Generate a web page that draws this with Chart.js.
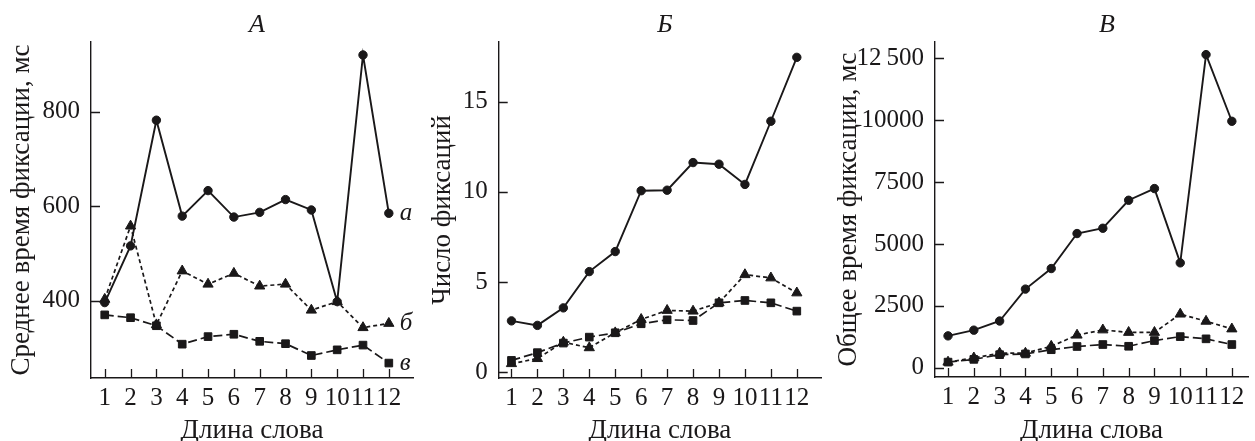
<!DOCTYPE html>
<html><head><meta charset="utf-8">
<script src="https://cdn.jsdelivr.net/npm/chart.js@4.4.0/dist/chart.umd.min.js"></script>
<style>
html,body{margin:0;padding:0;background:#fff;}
#wrap{position:relative;width:1255px;height:441px;overflow:hidden;background:#fff;}
canvas{position:absolute;top:0;}
</style></head><body>
<div id="wrap">
<canvas id="cA" width="420" height="441" style="left:0px"></canvas>
<canvas id="cB" width="408" height="441" style="left:420px"></canvas>
<canvas id="cC" width="427" height="441" style="left:828px"></canvas>
</div>
<script>
// ---------- DATA ----------
const wordLength = [1,2,3,4,5,6,7,8,9,10,11,12];
const seriesNames = ['а','б','в'];

// A: mean fixation duration, ms
const meanA_a = [396,516,782,579,633,577,587,614,592,398,920,585];
const meanA_b = [403,558,349,463,435,458,431,435,380,398,343,352];
const meanA_v = [370,364,347,308,324,329,314,309,284,296,306,268];

// Б: number of fixations
const countB_a = [2.85,2.6,3.57,5.58,6.69,10.06,10.09,11.62,11.53,10.41,13.91,17.45];
const countB_b = [0.48,0.76,1.67,1.36,2.19,2.93,3.43,3.39,3.85,5.41,5.23,4.40];
const countB_v = [0.66,1.09,1.62,1.95,2.19,2.69,2.91,2.87,3.85,3.98,3.85,3.39];

// В: total fixation time, ms
const totalC_a = [1290,1520,1890,3180,4010,5424,5638,6769,7241,4240,12654,9960];
const totalC_b = [230,400,590,590,870,1320,1530,1430,1430,2170,1880,1570];
const totalC_v = [230,340,530,560,730,860,940,870,1100,1260,1170,940];

// tick values / labels
const ticksA = [400,600,800];
const ticksB = [0,5,10,15];
const ticksC = [0,2500,5000,7500,10000,12500];
const tickLabelsC = ['0','2500','5000','7500','10000','12\u2009500'];

const panelTitles = ['А','Б','В'];
const xTitle = 'Длина слова';
const yTitles = ['Среднее время фиксации, мс','Число фиксаций','Общее время фиксации, мс'];

// ---------- STYLE ----------
const INK = '#1a1819';
Chart.defaults.font.family = '"Liberation Serif","DejaVu Serif",serif';
Chart.defaults.color = INK;
Chart.defaults.animation = false;

const annot = {
  id: 'annot',
  afterDraw(chart, args, o) {
    const ctx = chart.ctx, xs = chart.scales.x, ys = chart.scales.y, ca = chart.chartArea;
    ctx.save();
    ctx.strokeStyle = INK; ctx.lineWidth = 1.3; ctx.beginPath();
    xs.ticks.forEach(t => { const px = Math.round(xs.getPixelForValue(t.value)) + 0.5; ctx.moveTo(px, ca.bottom); ctx.lineTo(px, ca.bottom - 9); });
    ys.ticks.forEach(t => { const py = Math.round(ys.getPixelForValue(t.value)) + 0.5; ctx.moveTo(ca.left, py); ctx.lineTo(ca.left + 9, py); });
    ctx.stroke();
    ctx.fillStyle = INK;
    ctx.font = 'italic 26px "Liberation Serif"';
    ctx.textAlign = 'center'; ctx.textBaseline = 'middle';
    ctx.fillText(o.title, o.titleX, o.titleY);
    if (o.labels) {
      ctx.textAlign = 'left';
      ctx.font = 'italic 25px "Liberation Serif"';
      chart.data.datasets.forEach((ds, i) => {
        const m = chart.getDatasetMeta(i); const p = m.data[m.data.length - 1];
        ctx.fillText(o.labels[i], p.x + 11, p.y);
      });
    }
    ctx.restore();
  }
};

function ds(values, style) {
  const base = {
    data: wordLength.map((x, i) => ({x, y: values[i]})),
    borderColor: INK, backgroundColor: INK, pointBackgroundColor: INK, pointBorderColor: INK,
    pointBorderWidth: 1, tension: 0, clip: false
  };
  if (style === 0) Object.assign(base, {borderWidth: 1.9, pointStyle: 'circle', pointRadius: 4.2});
  if (style === 1) Object.assign(base, {borderWidth: 1.7, borderDash: [4, 3], pointStyle: 'triangle', pointRadius: 5.9});
  if (style === 2) Object.assign(base, {borderWidth: 1.7, borderDash: [9, 4], pointStyle: 'rect', pointRadius: 5.4});
  return base;
}

function makeChart(id, sets, cfg) {
  return new Chart(document.getElementById(id), {
    type: 'line',
    data: {datasets: sets.map((v, i) => ds(v, i))},
    options: {
      responsive: false,
      layout: {padding: {left: 0, right: cfg.padRight, top: 42, bottom: 0}},
      plugins: {legend: {display: false}, tooltip: {enabled: false},
        annot: {title: cfg.title, titleX: cfg.titleX, titleY: 25, labels: cfg.labels}},
      scales: {
        x: {
          type: 'linear', min: cfg.xmin, max: cfg.xmax,
          afterBuildTicks: s => { s.ticks = wordLength.map(v => ({value: v})); },
          afterFit: s => { s.height = 441 - cfg.bottom; },
          grid: {display: false, drawTicks: false},
          border: {display: true, color: INK, width: 1.4},
          ticks: {font: {size: 25}, padding: 5, maxRotation: 0, autoSkip: false, callback: v => String(v)},
          title: {display: true, text: xTitle, font: {size: 27, lineHeight: 1}, padding: {top: 0, bottom: -3}}
        },
        y: {
          type: 'linear', min: cfg.ymin, max: cfg.ymax,
          afterBuildTicks: s => { s.ticks = cfg.ticks.map(v => ({value: v})); },
          afterFit: s => { s.width = cfg.yw; },
          grid: {display: false, drawTicks: false},
          border: {display: true, color: INK, width: 1.4},
          ticks: {font: {size: 25}, padding: 11, autoSkip: false,
            callback: v => { const k = cfg.ticks.indexOf(v); return cfg.tickLabels ? cfg.tickLabels[k] : String(v); }},
          title: {display: true, text: cfg.yTitle, font: {size: cfg.ytSize, lineHeight: 1}, padding: {top: cfg.ytPad, bottom: 0}}
        }
      }
    },
    plugins: [annot]
  });
}

makeChart('cA', [meanA_a, meanA_b, meanA_v], {
  padRight: 1, yw: 91, bottom: 378, xmin: 0.468, xmax: 12.94, ymin: 236.4, ymax: 947.5,
  ticks: ticksA, title: panelTitles[0], titleX: 257, labels: seriesNames,
  yTitle: yTitles[0], ytSize: 27, ytPad: 8
});
makeChart('cB', [countB_a, countB_b, countB_v], {
  padRight: 1, yw: 78.7, bottom: 378, xmin: 0.508, xmax: 12.936, ymin: -0.315, ymax: 18.30,
  ticks: ticksB, title: panelTitles[1], titleX: 245,
  yTitle: yTitles[1], ytSize: 27, ytPad: 9
});
makeChart('cC', [totalC_a, totalC_b, totalC_v], {
  padRight: 0, yw: 107, bottom: 377, xmin: 0.495, xmax: 12.63, ymin: -372, ymax: 13163,
  ticks: ticksC, tickLabels: tickLabelsC, title: panelTitles[2], titleX: 279,
  yTitle: yTitles[2], ytSize: 27, ytPad: 7
});
</script>
</body></html>
